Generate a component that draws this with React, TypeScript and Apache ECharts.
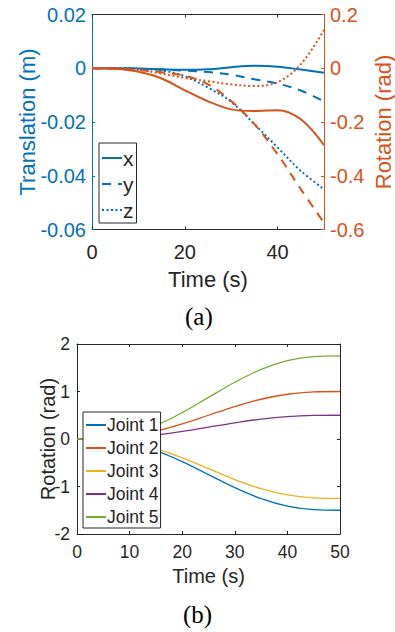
import React, { useEffect, useRef } from "react";
import * as echarts from "echarts";

// ---------- data: panel (a) ----------
const timeA = [0, 5, 10, 15, 20, 25, 30, 35, 40, 45, 50];
const transX = [0, 0, -0.0001, -0.0004, -0.0006, -0.0004, 0.0004, 0.0009, 0.0006, -0.0005, -0.0017];
const transY = [0, 0, -0.0002, -0.0005, -0.0009, -0.0014, -0.0024, -0.0041, -0.0057, -0.0083, -0.0123];
const transZ = [0, 0, -0.0002, -0.0008, -0.003, -0.0072, -0.0125, -0.0208, -0.0295, -0.0382, -0.045];
const rotX = [0, -0.002, -0.013, -0.038, -0.082, -0.123, -0.153, -0.159, -0.156, -0.19, -0.286];
const rotY = [0, -0.002, -0.006, -0.015, -0.028, -0.06, -0.122, -0.208, -0.32, -0.45, -0.575];
const rotZ = [0, -0.001, -0.006, -0.02, -0.036, -0.048, -0.06, -0.066, -0.052, 0.015, 0.142];
const legendA = ["x", "y", "z"];
const xTicksA = [0, 20, 40];

// ---------- data: panel (b) ----------
const timeB = [0, 5, 10, 15, 20, 25, 30, 35, 40, 45, 50];
const joint1 = [0, -0.013, -0.087, -0.245, -0.476, -0.75, -1.024, -1.255, -1.413, -1.487, -1.5];
const joint2 = [0, 0.009, 0.058, 0.163, 0.317, 0.5, 0.683, 0.837, 0.942, 0.991, 1];
const joint3 = [0, -0.011, -0.072, -0.204, -0.397, -0.625, -0.853, -1.046, -1.178, -1.239, -1.25];
const joint4 = [0, 0.004, 0.029, 0.082, 0.159, 0.25, 0.341, 0.418, 0.471, 0.496, 0.5];
const joint5 = [0, 0.015, 0.101, 0.285, 0.556, 0.875, 1.194, 1.465, 1.649, 1.735, 1.75];
const jointNames = ["Joint 1", "Joint 2", "Joint 3", "Joint 4", "Joint 5"];

const BLUE = "#0072BD";
const ORANGE = "#D95319";
const GRAY = "#262626";
const jointColors = ["#0072BD", "#D95319", "#EDB120", "#7E2F8E", "#77AC30"];
const FONT = "'Liberation Sans', Arial, Helvetica, sans-serif";
const SERIF = "'Liberation Serif', 'DejaVu Serif', serif";

const pairs = (t: number[], v: number[]) => t.map((x, i) => [x, v[i]]);

export default function App() {
  const ref = useRef<HTMLDivElement>(null);
  useEffect(() => {
    document.body.style.margin = "0";
    if (!ref.current) return;
    const chart = echarts.init(ref.current, undefined, { renderer: "svg" });

    const tick = (color: string, len = 3) => ({ show: true, inside: true, length: len, lineStyle: { color, width: 1 } });
    const line = (color: string) => ({ show: true, onZero: false, lineStyle: { color, width: 1 } });

    const lineSeries = (
      name: string,
      t: number[],
      v: number[],
      color: string,
      type: any,
      width: number,
      xi: number,
      yi: number
    ) => ({
      type: "line",
      name,
      data: pairs(t, v),
      xAxisIndex: xi,
      yAxisIndex: yi,
      smooth: 0.35,
      symbol: "none",
      lineStyle: { color, width, type },
      itemStyle: { color },
      z: 2,
    });

    const DASH = [9, 7];
    const DOT = [2, 2.5];
    const hiddenSymbol = { color: "rgba(0,0,0,0)", borderWidth: 0, opacity: 0 };

    chart.setOption({
      animation: false,
      grid: [
        { left: 92, top: 14.5, width: 232, height: 215, outerBoundsMode: "none", containLabel: false },
        { left: 77, top: 344, width: 263, height: 190, outerBoundsMode: "none", containLabel: false },
      ],
      xAxis: [
        {
          gridIndex: 0, type: "value", min: 0, max: 50, interval: 20, position: "bottom",
          axisLine: line(GRAY), axisTick: { ...tick(GRAY), customValues: xTicksA },
          axisLabel: { customValues: xTicksA, color: GRAY, fontSize: 20, fontFamily: FONT, margin: 12 },
          splitLine: { show: false },
          name: "Time (s)", nameLocation: "middle", nameGap: 39, nameMoveOverlap: false,
          nameTextStyle: { color: GRAY, fontSize: 22, fontFamily: FONT },
        },
        {
          gridIndex: 0, type: "value", min: 0, max: 50, interval: 20, position: "top",
          axisLine: line(GRAY), axisTick: { ...tick(GRAY), customValues: xTicksA },
          axisLabel: { show: false }, splitLine: { show: false },
        },
        {
          gridIndex: 1, type: "value", min: 0, max: 50, interval: 10, position: "bottom",
          axisLine: line(GRAY), axisTick: tick(GRAY),
          axisLabel: { color: GRAY, fontSize: 17.5, fontFamily: FONT, margin: 9 },
          splitLine: { show: false },
          name: "Time (s)", nameLocation: "middle", nameGap: 32, nameMoveOverlap: false,
          nameTextStyle: { color: GRAY, fontSize: 20, fontFamily: FONT },
        },
        {
          gridIndex: 1, type: "value", min: 0, max: 50, interval: 10, position: "top",
          axisLine: line(GRAY), axisTick: tick(GRAY),
          axisLabel: { show: false }, splitLine: { show: false },
        },
      ],
      yAxis: [
        {
          gridIndex: 0, type: "value", min: -0.06, max: 0.02, interval: 0.02, position: "left",
          axisLine: line(BLUE), axisTick: tick(BLUE),
          axisLabel: { color: BLUE, fontSize: 20, fontFamily: FONT, margin: 6 },
          splitLine: { show: false },
          name: "Translation (m)", nameLocation: "middle", nameRotate: 90, nameGap: 54, nameMoveOverlap: false,
          nameTextStyle: { color: BLUE, fontSize: 22, fontFamily: FONT },
        },
        {
          gridIndex: 0, type: "value", min: -0.6, max: 0.2, interval: 0.2, position: "right",
          axisLine: line(ORANGE), axisTick: tick(ORANGE),
          axisLabel: { color: ORANGE, fontSize: 20, fontFamily: FONT, margin: 6 },
          splitLine: { show: false },
          name: "Rotation (rad)", nameLocation: "middle", nameRotate: 90, nameGap: 48, nameMoveOverlap: false,
          nameTextStyle: { color: ORANGE, fontSize: 22, fontFamily: FONT },
        },
        {
          gridIndex: 1, type: "value", min: -2, max: 2, interval: 1, position: "left",
          axisLine: line(GRAY), axisTick: tick(GRAY),
          axisLabel: { color: GRAY, fontSize: 17.5, fontFamily: FONT, margin: 7 },
          splitLine: { show: false },
          name: "Rotation (rad)", nameLocation: "middle", nameRotate: 90, nameGap: 19, nameMoveOverlap: false,
          nameTextStyle: { color: GRAY, fontSize: 20, fontFamily: FONT },
        },
        {
          gridIndex: 1, type: "value", min: -2, max: 2, interval: 1, position: "right",
          axisLine: line(GRAY), axisTick: tick(GRAY),
          axisLabel: { show: false }, splitLine: { show: false },
        },
      ],
      legend: [
        {
          data: legendA,
          orient: "vertical", left: 99, top: 143,
          padding: [4, 3, 2, 2], itemWidth: 20, itemHeight: 10, itemGap: 4,
          backgroundColor: "#fff", borderColor: GRAY, borderWidth: 1,
          itemStyle: hiddenSymbol,
          textStyle: { color: GRAY, fontSize: 21, lineHeight: 22, fontFamily: FONT, padding: [0, 0, 0, -4] },
          selectedMode: false,
        },
        {
          data: jointNames,
          orient: "vertical", left: 83, top: 412,
          padding: [3, 2, 1, 2], itemWidth: 20, itemHeight: 10, itemGap: 3,
          backgroundColor: "#fff", borderColor: GRAY, borderWidth: 1,
          itemStyle: hiddenSymbol,
          textStyle: { color: GRAY, fontSize: 17.5, lineHeight: 20, fontFamily: FONT, padding: [0, 0, 0, -4] },
          selectedMode: false,
        },
      ],
      graphic: [
        { type: "text", left: 185, top: 304, style: { text: "(a)", fontSize: 25, fontFamily: SERIF, fill: "#000" } },
        { type: "text", left: 183, top: 602, style: { text: "(b)", fontSize: 25, fontFamily: SERIF, fill: "#000" } },
      ],
      series: [
        lineSeries("x", timeA, transX, BLUE, "solid", 2, 0, 0),
        lineSeries("y", timeA, transY, BLUE, DASH, 2, 0, 0),
        lineSeries("z", timeA, transZ, BLUE, DOT, 2, 0, 0),
        lineSeries("rot x", timeA, rotX, ORANGE, "solid", 2, 0, 1),
        lineSeries("rot y", timeA, rotY, ORANGE, DASH, 2, 0, 1),
        lineSeries("rot z", timeA, rotZ, ORANGE, DOT, 2, 0, 1),
        lineSeries("Joint 1", timeB, joint1, jointColors[0], "solid", 1.3, 2, 2),
        lineSeries("Joint 2", timeB, joint2, jointColors[1], "solid", 1.3, 2, 2),
        lineSeries("Joint 3", timeB, joint3, jointColors[2], "solid", 1.3, 2, 2),
        lineSeries("Joint 4", timeB, joint4, jointColors[3], "solid", 1.3, 2, 2),
        lineSeries("Joint 5", timeB, joint5, jointColors[4], "solid", 1.3, 2, 2),
      ],
    });
    return () => chart.dispose();
  }, []);
  return <div ref={ref} style={{ width: 395, height: 632 }} />;
}
